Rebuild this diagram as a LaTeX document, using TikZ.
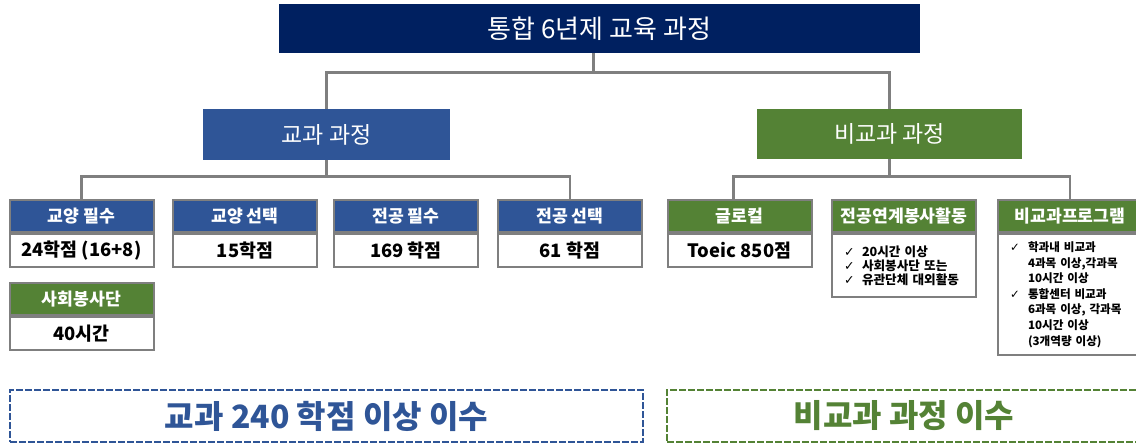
\documentclass[tikz,border=0pt]{standalone}
\usepackage{fontspec}
\setmainfont{Noto Sans CJK KR}
\newfontfamily\symfont{DejaVu Sans}
\usetikzlibrary{positioning}
\definecolor{navy}{HTML}{002060}
\definecolor{blu}{HTML}{2F5597}
\definecolor{grn}{HTML}{548235}
\definecolor{linegray}{HTML}{7F7F7F}
\newcommand{\chk}{\makebox[9pt][l]{\symfont\bfseries ✓}}
\newcommand{\ind}{\makebox[9pt][l]{}}
\tikzset{
  conn/.style={draw=linegray, line width=1.3pt},
  head/.style={draw=linegray, line width=1pt, minimum width=72pt, minimum height=16pt,
    inner sep=0pt, text=white, font=\bfseries\fontsize{8.6}{10}\selectfont},
  bluehead/.style={head, fill=blu},
  greenhead/.style={head, fill=grn},
  valbox/.style={draw=linegray, line width=1pt, fill=white, minimum width=72pt,
    minimum height=16.5pt, inner sep=0pt, font=\bfseries\fontsize{9.2}{11}\selectfont},
  listbox/.style={valbox, inner xsep=6pt, text width=60pt, align=left},
  total/.style={line width=1.3pt, dash pattern=on 3.5pt off 1pt, minimum height=26pt,
    inner sep=0pt, font=\bfseries\fontsize{16}{18}\selectfont}
}
\begin{document}
\begin{tikzpicture}[x=0.5pt, y=-0.5pt]
  \useasboundingbox (0,0) rectangle (1136,443);
  % top level
  \node[fill=navy, text=white, minimum width=320.5pt, minimum height=24.5pt, inner sep=0pt,
        font=\fontsize{13}{15}\selectfont] (title) at (599.5, 28.5) {통합 6년제 교육 과정};
  \node[fill=blu, text=white, minimum width=123.5pt, minimum height=25.5pt, inner sep=0pt,
        font=\fontsize{11.5}{13}\selectfont] (cur) at (326.5, 134.5) {교과 과정};
  \node[fill=grn, text=white, minimum width=132.5pt, minimum height=25pt, inner sep=0pt,
        font=\fontsize{11.5}{13}\selectfont] (ext) at (889.5, 134) {비교과 과정};

  % curricular cards
  \node[bluehead] (kyp) at (81.5, 216) {교양 필수};
  \node[valbox, below=0pt of kyp] (kyp-v) {24학점 (16+8)};
  \node[bluehead] (kys) at (245, 216) {교양 선택};
  \node[valbox, below=0pt of kys] (kys-v) {15학점};
  \node[bluehead] (jgp) at (406, 216) {전공 필수};
  \node[valbox, below=0pt of jgp] (jgp-v) {169 학점};
  \node[bluehead] (jgs) at (570, 216) {전공 선택};
  \node[valbox, below=0pt of jgs] (jgs-v) {61 학점};
  \node[greenhead] (sbs) at (81.5, 299) {사회봉사단};
  \node[valbox, below=0pt of sbs] (sbs-v) {40시간};

  % extracurricular cards
  \node[greenhead] (glo) at (739.5, 216) {글로컬};
  \node[valbox, below=0pt of glo] (glo-v) {Toeic 850점};
  \node[greenhead] (jys) at (904, 216) {전공연계봉사활동};
  \node[listbox, minimum height=31.5pt, below=0pt of jys, font=\bfseries\fontsize{6.3}{5.9}\selectfont] (jys-v)
    {\chk 20시간 이상\\ \chk 사회봉사단 또는\\ \chk 유관단체 대외활동};
  \node[greenhead] (bpg) at (1070, 216) {비교과프로그램};
  \node[listbox, minimum height=60.5pt, below=0pt of bpg, font=\bfseries\fontsize{5.8}{7.8}\selectfont] (bpg-v)
    {\chk 학과내 비교과\\ \ind 4과목 이상,각과목\\ \ind 10시간 이상\\
     \chk 통합센터 비교과\\ \ind 6과목 이상, 각과목\\ \ind 10시간 이상\\ \ind (3개역량 이상)};

  % connectors
  \draw[conn] ([xshift=-3pt]title.south) -- ++(0,19) coordinate (topbus) -| (cur.north);
  \draw[conn] (topbus) -| (ext.north);
  \draw[conn] (cur.south) -- ++(0,16) coordinate (lbus) -| (kyp.north);
  \draw[conn] (lbus) -| (jgs.north);
  \draw[conn] (ext.south) -- ++(0,17) coordinate (rbus) -| ([xshift=-3pt]glo.north);
  \draw[conn] (rbus) -| (bpg.north);

  % totals
  \node[total, draw=blu, text=blu, minimum width=316.5pt] (sum-cur) at (326.5, 416) {교과 240 학점 이상 이수};
  \node[total, draw=grn, text=grn, minimum width=237pt] (sum-ext) at (904, 416) {비교과 과정 이수};
\end{tikzpicture}
\end{document}
